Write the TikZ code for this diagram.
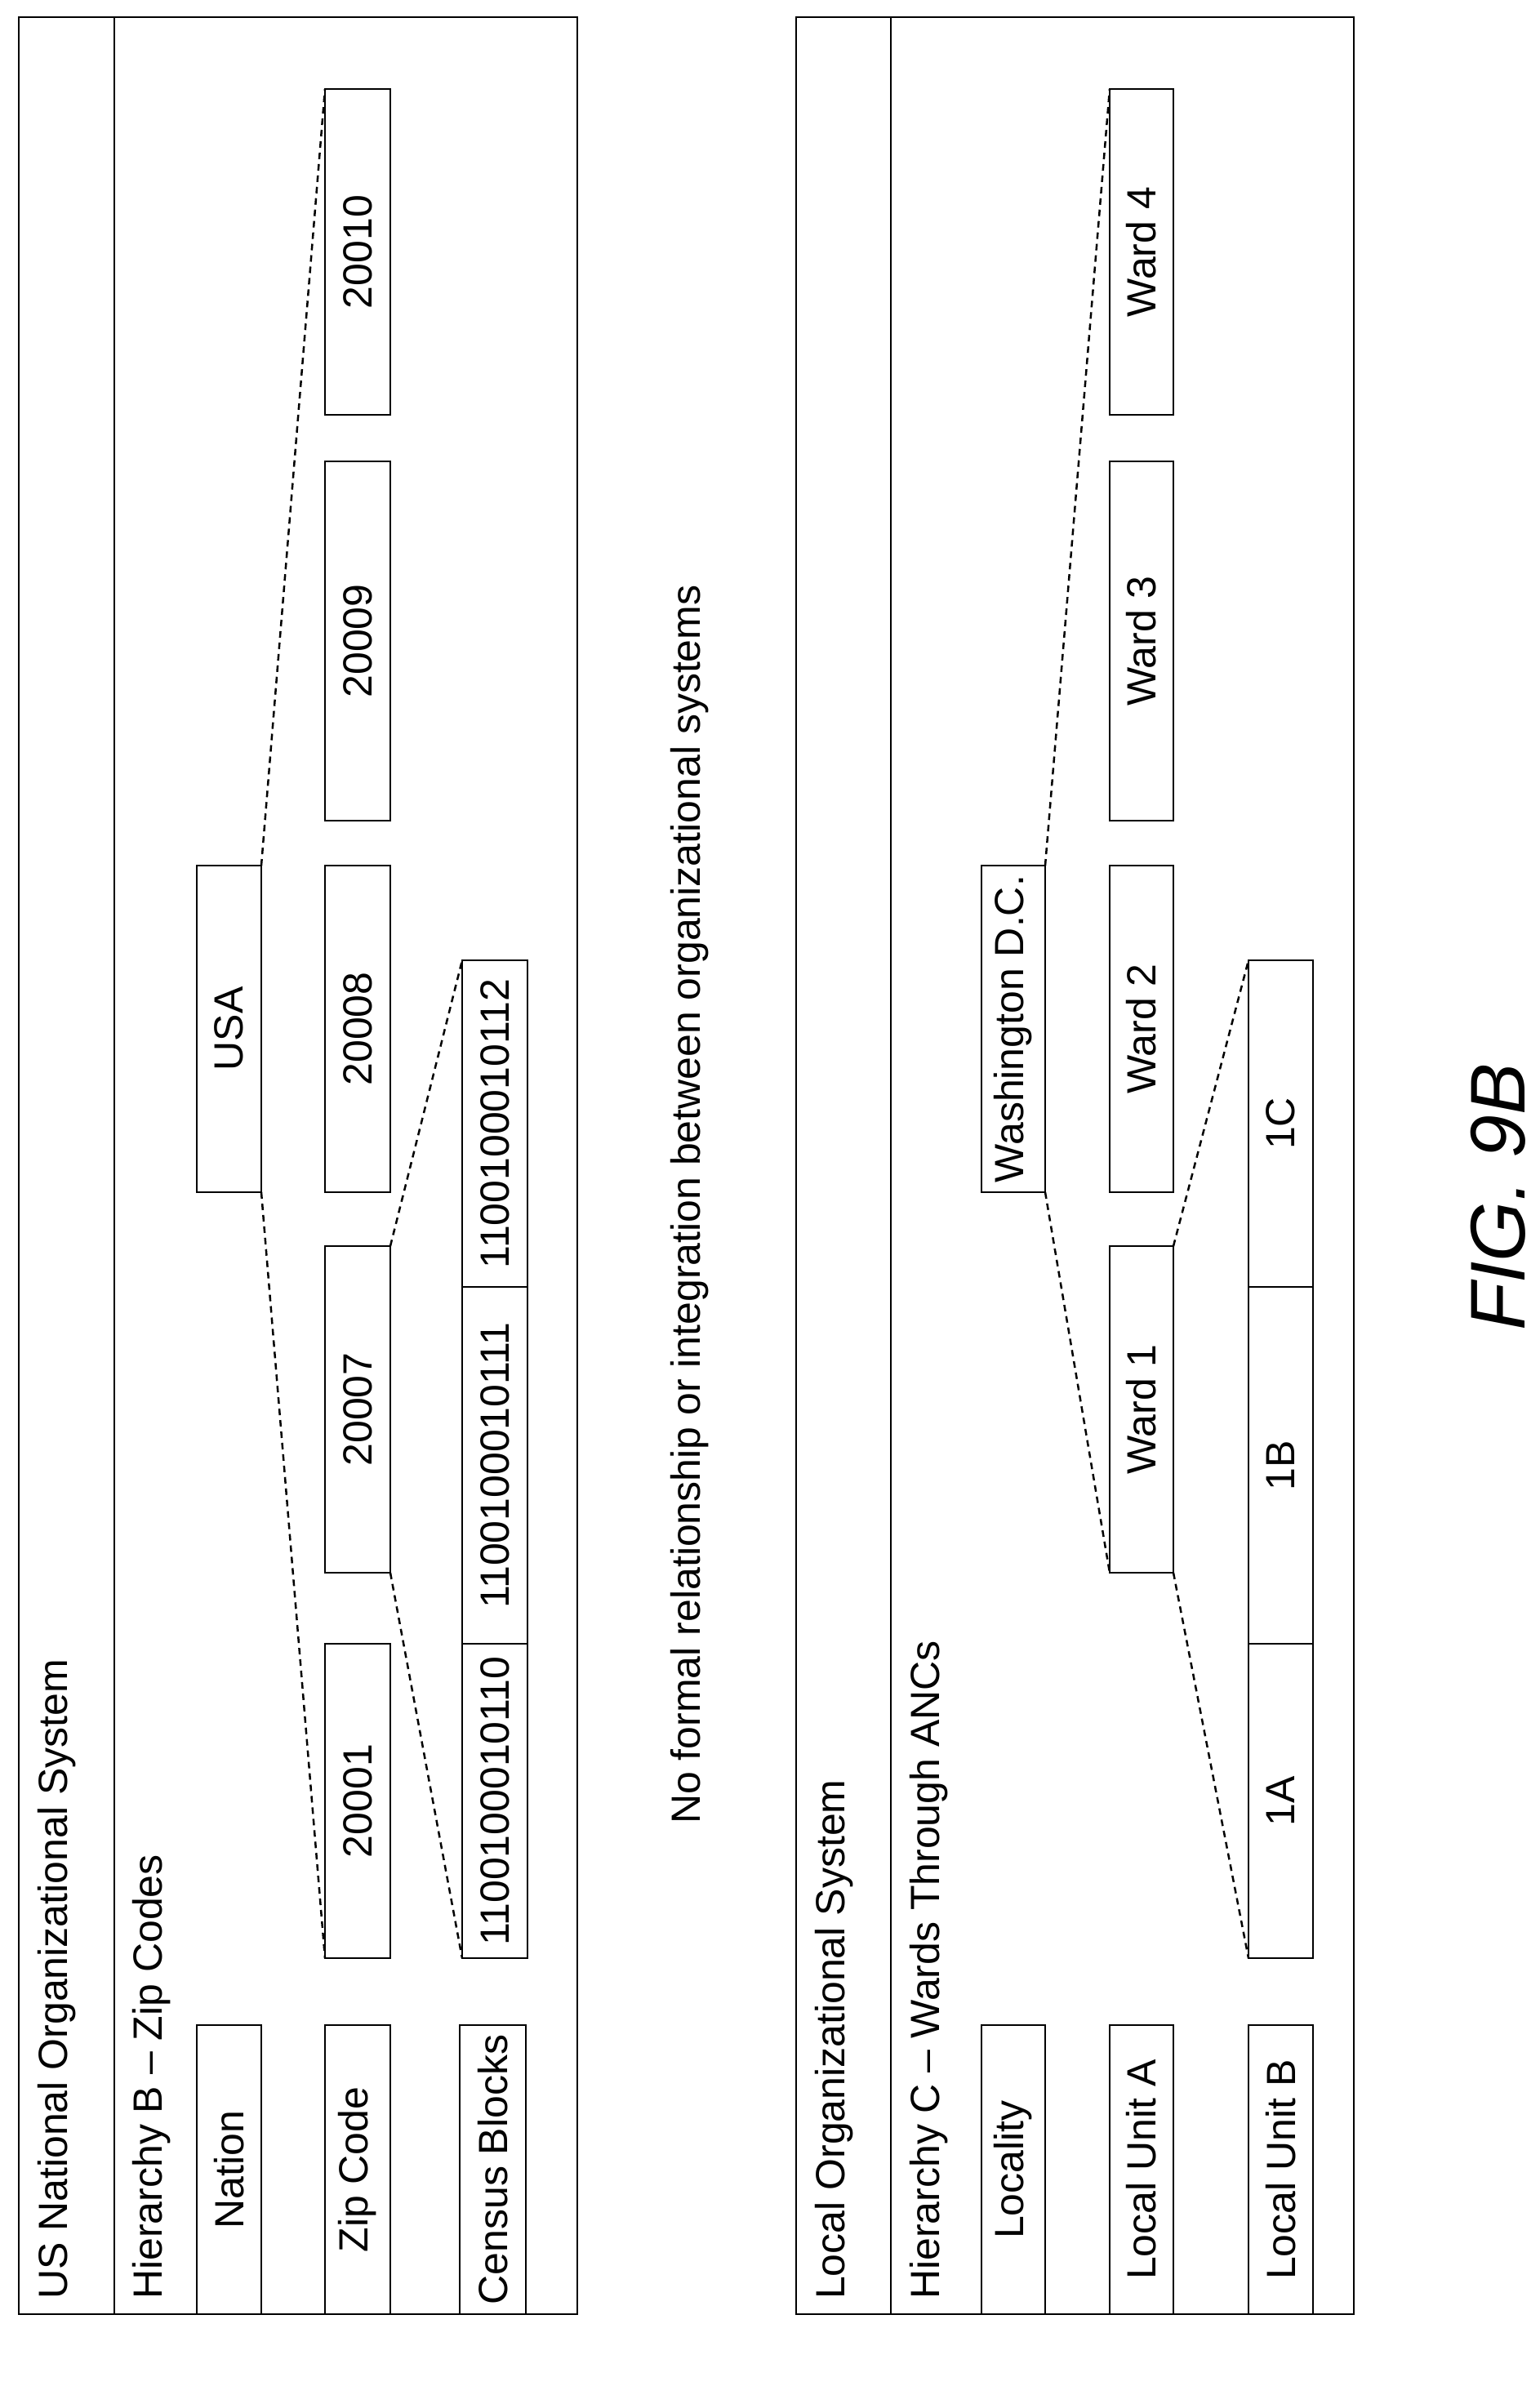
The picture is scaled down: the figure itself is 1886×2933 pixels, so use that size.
\documentclass[tikz,border=0pt]{standalone}
\usepackage{fontspec}
\setmainfont{Liberation Sans}
\begin{document}
\begin{tikzpicture}[x=1pt,y=-1pt,
  bx/.style={draw,line width=2.5pt},
  txt/.style={rotate=90,font=\fontsize{50}{60}\selectfont,inner sep=0pt},
  dl/.style={line width=2.5pt,dash pattern=on 8pt off 6pt}]
\useasboundingbox (0,0) rectangle (1886,2933);
% top panel
\draw[bx] (23,21) rectangle (707,2834);
\draw[bx] (140,21) -- (140,2834);
\node[txt,anchor=west] (t1) at (70,2816) {US National Organizational System};
\node[txt,anchor=west] (h1) at (186,2816) {Hierarchy B -- Zip Codes};
\foreach \n/\a/\b/\t in {nat/241/320/Nation,zip/398/478/Zip Code,cen/563/644/Census Blocks}{
  \draw[bx] (\a,2480) rectangle (\b,2834);
  \node[txt] (\n) at ({(\a+\b)/2},2657) {\t};}
\draw[bx] (241,1060) rectangle (320,1460); \node[txt] (usa) at (280.5,1260) {USA};
\foreach \n/\a/\b/\t in {z10/109/508/20010,z09/565/1005/20009,z08/1060/1460/20008,z07/1526/1926/20007,z01/2013/2398/20001}{
  \draw[bx] (398,\a) rectangle (478,\b);
  \node[txt] (\n) at (438,{(\a+\b)/2}) {\t};}
\foreach \n/\a/\b/\t in {c12/1176/1576/1100100010112,c11/1576/2013/1100100010111,c10/2013/2398/1100100010110}{
  \draw[bx] (566,\a) rectangle (646,\b);
  \node[txt] (\n) at (606,{(\a+\b)/2}) {\t};}
\coordinate (ua) at (320,1060); \coordinate (ub) at (320,1460);
\coordinate (z10a) at (398,109); \coordinate (z01b) at (398,2398);
\coordinate (z07a) at (478,1526); \coordinate (z07b) at (478,1926);
\coordinate (c12a) at (566,1176); \coordinate (c10b) at (566,2398);
\draw[dl] (ua) -- (z10a); \draw[dl] (ub) -- (z01b);
\draw[dl] (z07a) -- (c12a); \draw[dl] (z07b) -- (c10b);
% middle text
\node[txt,anchor=center] (mid) at (845,1475) {No formal relationship or integration between organizational systems};
% bottom panel
\draw[bx] (975,21) rectangle (1658,2834);
\draw[bx] (1091,21) -- (1091,2834);
\node[txt,anchor=west] (t2) at (1022,2816) {Local Organizational System};
\node[txt,anchor=west] (h2) at (1138,2816) {Hierarchy C -- Wards Through ANCs};
\foreach \n/\a/\b/\t in {loc/1202/1280/Locality,lua/1359/1437/Local Unit A,lub/1529/1608/Local Unit B}{
  \draw[bx] (\a,2480) rectangle (\b,2834);
  \node[txt] (\n) at ({(\a+\b)/2},2657) {\t};}
\draw[bx] (1202,1060) rectangle (1280,1460); \node[txt] (dc) at (1241,1260) {Washington D.C.};
\foreach \n/\a/\b/\t in {w4/109/508/Ward 4,w3/565/1005/Ward 3,w2/1060/1460/Ward 2,w1/1526/1926/Ward 1}{
  \draw[bx] (1359,\a) rectangle (1437,\b);
  \node[txt] (\n) at (1398,{(\a+\b)/2}) {\t};}
\foreach \n/\a/\b/\t in {a1c/1176/1576/1C,a1b/1576/2013/1B,a1a/2013/2398/1A}{
  \draw[bx] (1529,\a) rectangle (1608,\b);
  \node[txt] (\n) at (1568.5,{(\a+\b)/2}) {\t};}
\coordinate (da) at (1280,1060); \coordinate (db) at (1280,1460);
\coordinate (w4a) at (1359,109); \coordinate (w1b) at (1359,1926);
\coordinate (w1c) at (1437,1526); \coordinate (w1d) at (1437,1926);
\coordinate (ca) at (1529,1176); \coordinate (cb) at (1529,2398);
\draw[dl] (da) -- (w4a); \draw[dl] (db) -- (w1b);
\draw[dl] (w1c) -- (ca); \draw[dl] (w1d) -- (cb);
\node[rotate=90,font=\fontsize{95}{110}\selectfont\itshape,inner sep=0pt] (fig) at (1835,1466) {FIG. 9B};
\end{tikzpicture}
\end{document}
